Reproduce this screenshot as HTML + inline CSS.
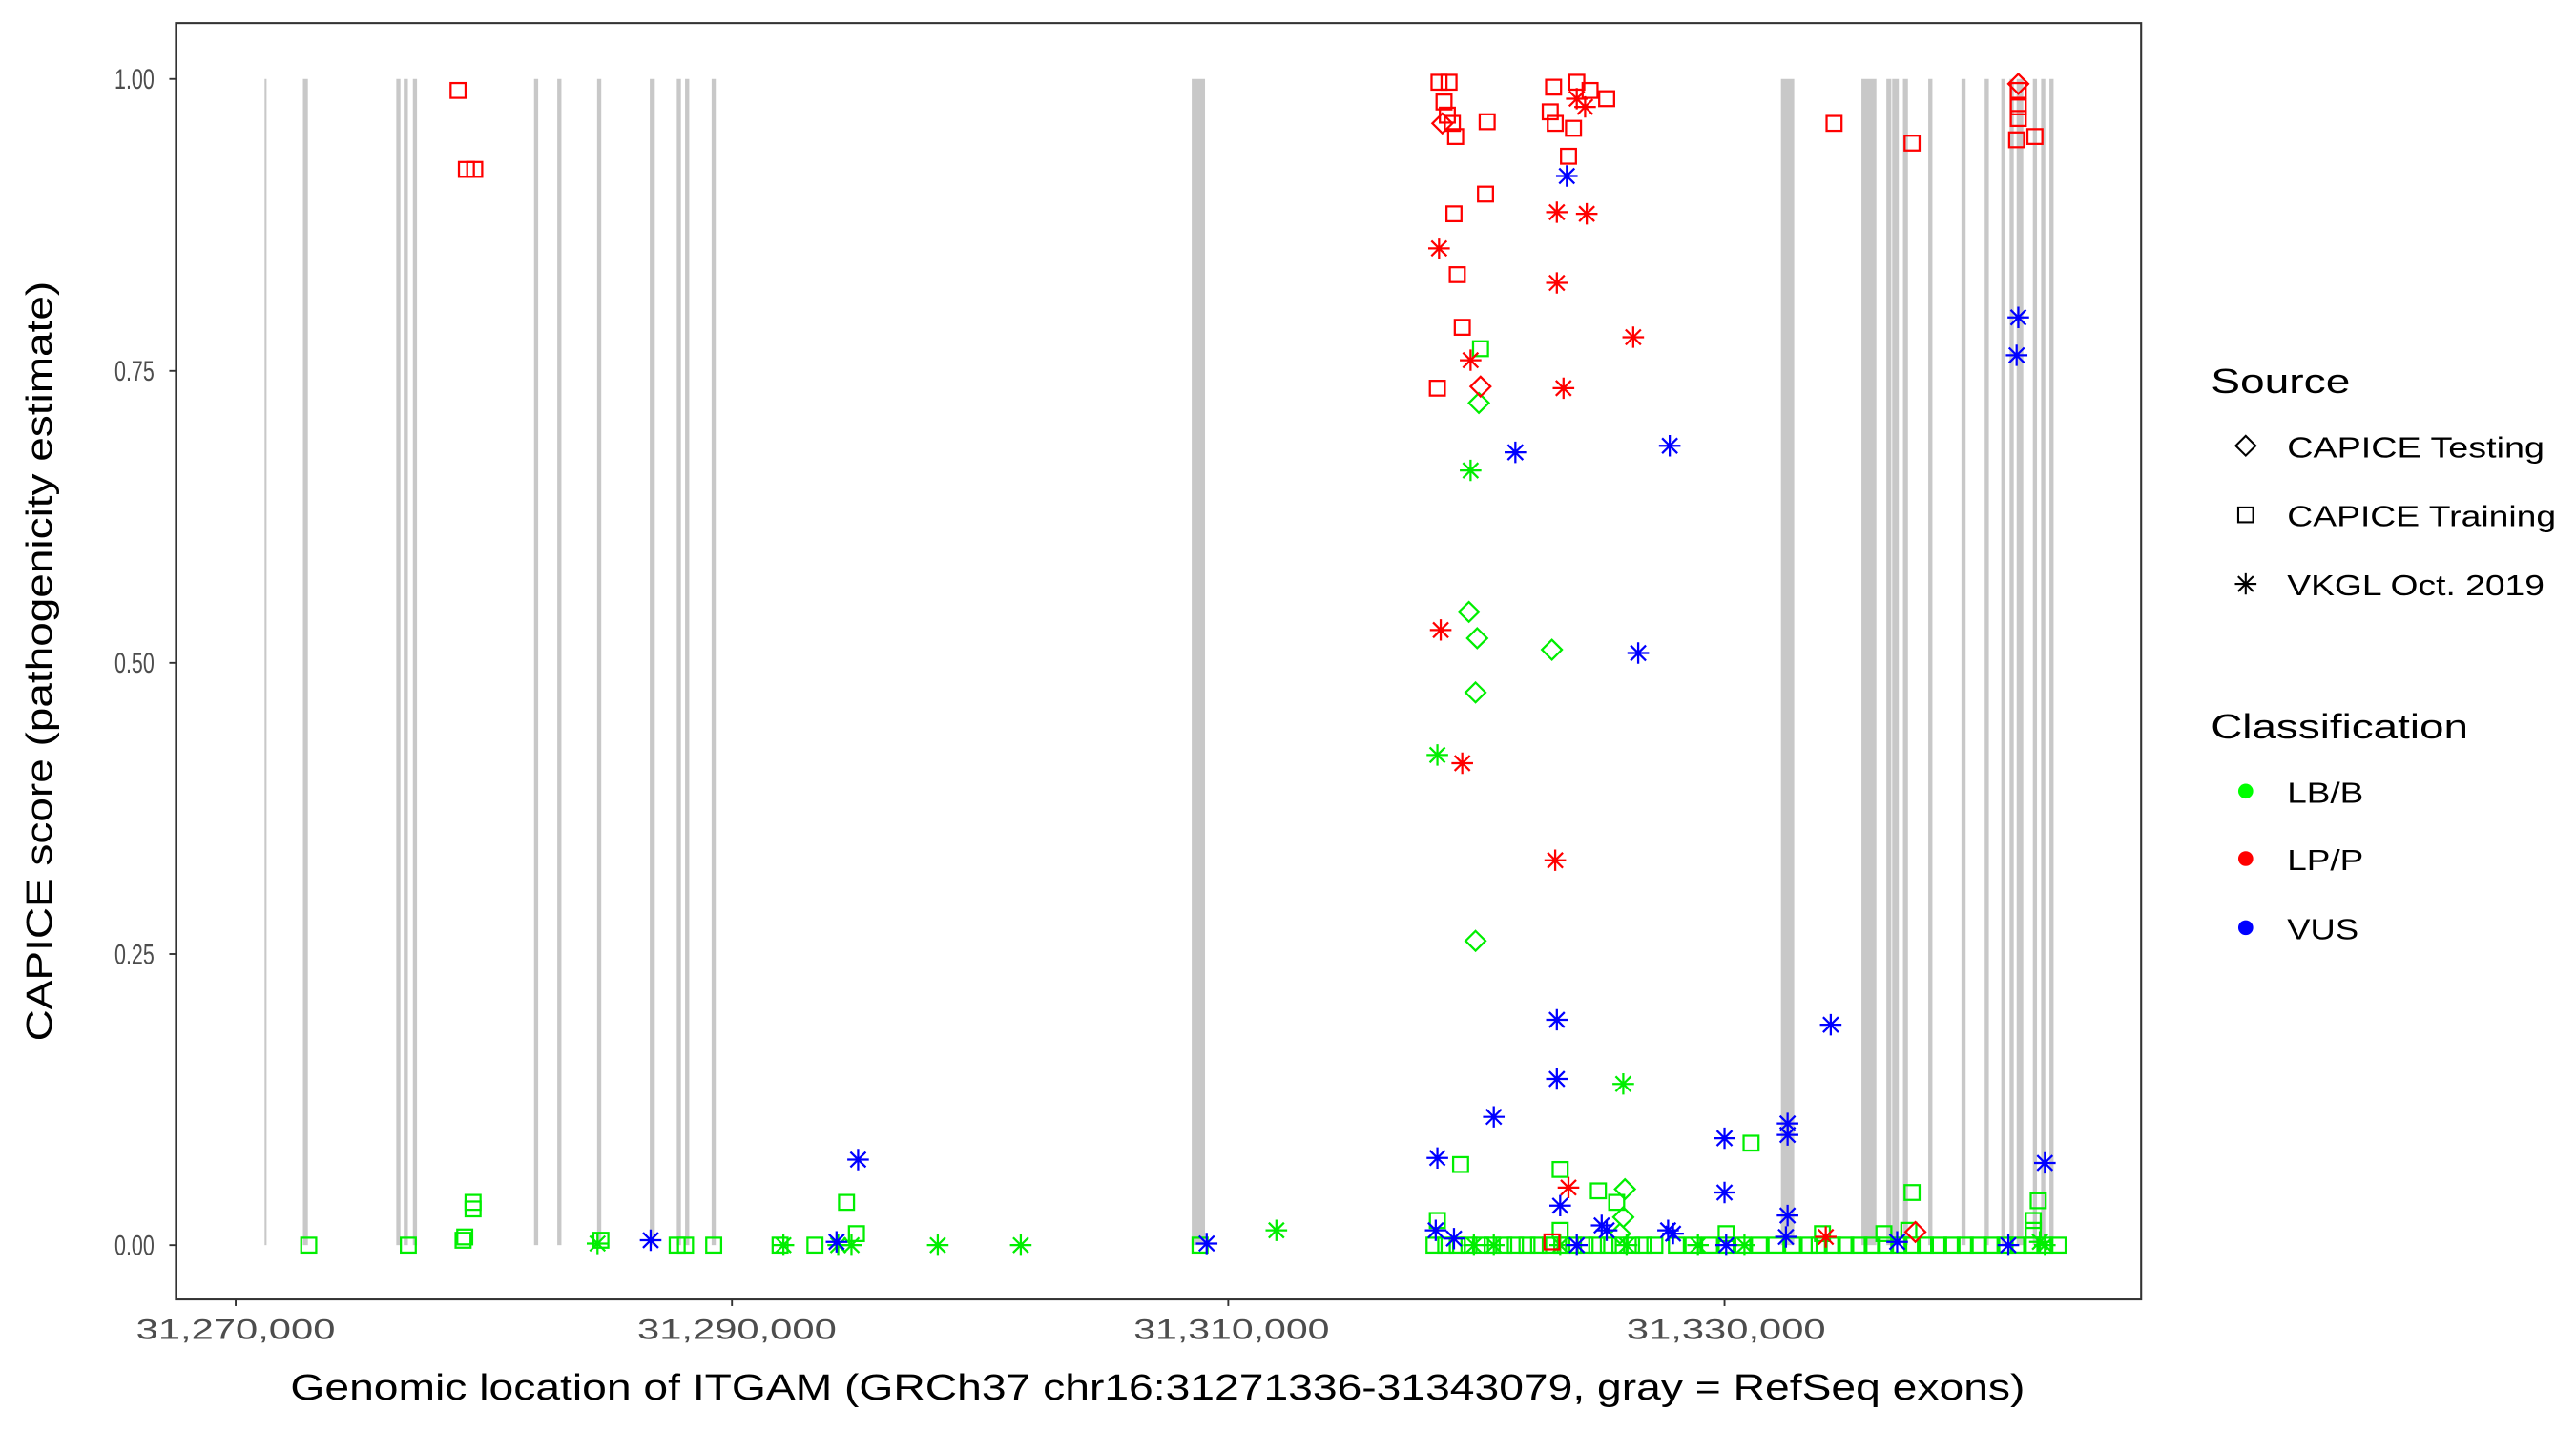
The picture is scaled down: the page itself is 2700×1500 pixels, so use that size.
<!DOCTYPE html>
<html><head><meta charset="utf-8"><style>
html,body{margin:0;padding:0;background:#fff;}
svg{display:block;}
text{font-family:"Liberation Sans",Arial,sans-serif;}
</style></head><body>
<svg id="s" width="2700" height="1500" viewBox="0 0 1552 870" preserveAspectRatio="none" xmlns="http://www.w3.org/2000/svg">
<rect width="1552" height="870" fill="#fff"/>
<g id="ex" fill="#c8c8c8"></g>
<g id="pts" fill="none" stroke-width="1.3"></g>
<rect x="106" y="14" width="1184" height="776" fill="none" stroke="#333" stroke-width="1.2"/>
<g stroke="#333" stroke-width="1.1">
<line x1="102" y1="48" x2="106" y2="48"/><line x1="102" y1="225.5" x2="106" y2="225.5"/><line x1="102" y1="403" x2="106" y2="403"/><line x1="102" y1="580" x2="106" y2="580"/><line x1="102" y1="757" x2="106" y2="757"/>
<line x1="142" y1="790" x2="142" y2="794"/><line x1="441" y1="790" x2="441" y2="794"/><line x1="740" y1="790" x2="740" y2="794"/><line x1="1039" y1="790" x2="1039" y2="794"/>
</g>
<g font-size="17" fill="#4d4d4d" text-anchor="end">
<text x="93" y="54" textLength="24" lengthAdjust="spacingAndGlyphs">1.00</text><text x="93" y="231.5" textLength="24" lengthAdjust="spacingAndGlyphs">0.75</text><text x="93" y="409" textLength="24" lengthAdjust="spacingAndGlyphs">0.50</text><text x="93" y="586" textLength="24" lengthAdjust="spacingAndGlyphs">0.25</text><text x="93" y="763" textLength="24" lengthAdjust="spacingAndGlyphs">0.00</text>
</g>
<g font-size="17" fill="#4d4d4d">
<text x="82" y="814" textLength="120" lengthAdjust="spacingAndGlyphs">31,270,000</text><text x="384" y="814" textLength="120" lengthAdjust="spacingAndGlyphs">31,290,000</text><text x="683" y="814" textLength="118" lengthAdjust="spacingAndGlyphs">31,310,000</text><text x="980" y="814" textLength="120" lengthAdjust="spacingAndGlyphs">31,330,000</text>
</g>
<text x="175" y="851" font-size="22" fill="#000" textLength="1045" lengthAdjust="spacingAndGlyphs">Genomic location of ITGAM (GRCh37 chr16:31271336-31343079, gray = RefSeq exons)</text>
<text transform="translate(31,633) rotate(-90)" font-size="22" fill="#000" textLength="462" lengthAdjust="spacingAndGlyphs">CAPICE score (pathogenicity estimate)</text>
<text x="1332" y="239" font-size="21" textLength="84" lengthAdjust="spacingAndGlyphs">Source</text>
<text x="1378" y="278" font-size="17.5" textLength="155" lengthAdjust="spacingAndGlyphs">CAPICE Testing</text>
<text x="1378" y="320" font-size="17.5" textLength="162" lengthAdjust="spacingAndGlyphs">CAPICE Training</text>
<text x="1378" y="362" font-size="17.5" textLength="155" lengthAdjust="spacingAndGlyphs">VKGL Oct. 2019</text>
<text x="1332" y="449" font-size="21" textLength="155" lengthAdjust="spacingAndGlyphs">Classification</text>
<text x="1378" y="488" font-size="17.5" textLength="46" lengthAdjust="spacingAndGlyphs">LB/B</text>
<text x="1378" y="529" font-size="17.5" textLength="46" lengthAdjust="spacingAndGlyphs">LP/P</text>
<text x="1378" y="571" font-size="17.5" textLength="43" lengthAdjust="spacingAndGlyphs">VUS</text>
<circle cx="1353" cy="481" r="4.5" fill="#00ff00"/>
<circle cx="1353" cy="522" r="4.5" fill="#ff0000"/>
<circle cx="1353" cy="564" r="4.5" fill="#0000ff"/>
<g id="leg" fill="none" stroke="#000" stroke-width="1.2"></g>
</svg>
<script>
var NS="http://www.w3.org/2000/svg";
function el(p,t,a){var e=document.createElementNS(NS,t);for(var k in a)e.setAttribute(k,a[k]);p.appendChild(e);return e;}
var ex=document.getElementById('ex');
var exons=[[160,1.2],[184,3],[240,2.5],[244.5,2.5],[250,2.5],[323,2.5],[337,2.5],[361,2.5],[393,3],[409,2.5],[414,2.5],[430,2.5],[722,8],[1077,8],[1126,9],[1138,3],[1142,4],[1148,3],[1163,2.5],[1183,2.5],[1197,2.5],[1207,2.5],[1212,2.5],[1217,4],[1226,2.5],[1231,2.5],[1236,2.5]];
exons.forEach(function(e){el(ex,'rect',{x:e[0]-e[1]/2,y:48,width:e[1],height:709});});
var C={g:'#00ee00',r:'#ff0000',b:'#0000ff'};
var pts=document.getElementById('pts');
function sq(g,x,y,c){el(g,'rect',{x:x-4.5,y:y-4.5,width:9,height:9,stroke:c});}
function di(g,x,y,c){el(g,'path',{d:'M'+x+' '+(y-6)+'L'+(x+6)+' '+y+'L'+x+' '+(y+6)+'L'+(x-6)+' '+y+'Z',stroke:c});}
function as(g,x,y,c){var r=6.5,d='M'+x+' '+(y-r)+'V'+(y+r)+'M'+(x-r)+' '+y+'H'+(x+r)+'M'+(x-4.6)+' '+(y-4.6)+'L'+(x+4.6)+' '+(y+4.6)+'M'+(x-4.6)+' '+(y+4.6)+'L'+(x+4.6)+' '+(y-4.6);el(g,'path',{d:d,stroke:c});}
var gs=[[892,212],[880,708],[940,711],[963,724],[1055,695],[1152,725],[1228,730],[866,742],[186,757],[246,757],[280,752],[279,754],[285,735],[285,731],[362,754],[408,757],[413,757],[430,757],[470,757],[491,757],[510,731],[516,750],[723,757],[974,731],[1098,750],[1040,750],[940,748],[1225,748],[1225,742],[1135,750],[1150,748]];
for(var x=864;x<=1000;x+=7)gs.push([x,757]);
for(var x=1010;x<=1090;x+=10)gs.push([x,757]);
for(var x=1096;x<=1240;x+=8)gs.push([x,757]);
gs.forEach(function(p){sq(pts,p[0],p[1],C.g);});
[[891,245],[885,372],[890,388],[889,421],[935,395],[889,572],[979,723],[978,740],[976,750]].forEach(function(p){di(pts,p[0],p[1],C.g);});
[[886,286],[866,459],[978,659],[769,748],[360,756],[472,757],[565,757],[615,757],[513,757],[1232,757],[980,757],[888,757],[900,757],[940,757],[1023,757],[1051,757],[1229,755],[505,757]].forEach(function(p){as(pts,p[0],p[1],C.g);});
[[276,55],[281,103],[286,103],[867,50],[873,50],[870,62],[872,70],[875,75],[877,83],[896,74],[876,130],[895,118],[878,167],[881,199],[866,236],[936,53],[950,50],[958,55],[968,60],[934,68],[937,75],[948,78],[945,95],[1105,75],[1152,87],[1216,55],[1216,65],[1216,72],[1226,83],[1215,85],[935,755]].forEach(function(p){sq(pts,p[0],p[1],C.r);});
[[869,75],[892,235],[1216,51],[1154,749]].forEach(function(p){di(pts,p[0],p[1],C.r);});
[[867,151],[886,219],[938,129],[956,130],[938,172],[942,236],[984,205],[868,383],[881,464],[937,523],[945,722],[950,60],[955,65],[1100,752]].forEach(function(p){as(pts,p[0],p[1],C.r);});
[[944,107],[913,275],[1006,271],[987,397],[1216,193],[1215,216],[938,620],[938,656],[900,679],[1103,623],[866,704],[940,733],[1077,683],[1077,690],[1039,692],[1039,725],[1077,739],[1232,707],[517,705],[392,754],[504,755],[727,756],[865,748],[876,753],[965,745],[968,748],[1008,750],[1040,757],[1076,752],[1143,755],[1210,757],[950,757],[1005,748]].forEach(function(p){as(pts,p[0],p[1],C.b);});
var lg=document.getElementById('leg');
di(lg,1353,271,'#000');sq(lg,1353,313,'#000');as(lg,1353,355,'#000');
</script>
</body></html>
